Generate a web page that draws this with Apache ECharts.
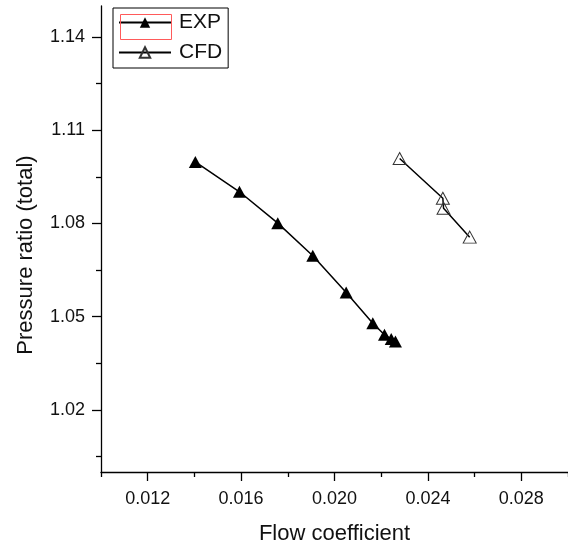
<!DOCTYPE html>
<html>
<head>
<meta charset="utf-8">
<script src="https://cdn.jsdelivr.net/npm/echarts@6/dist/echarts.min.js"></script>
<style>html,body{margin:0;padding:0;background:#fff}#c{width:568px;height:547px}</style>
</head>
<body>
<div id="c"></div>
<script>
// Data
const expFlow = [0.01404, 0.01593, 0.01757, 0.01907, 0.02050, 0.02164, 0.02214, 0.02243, 0.02261];
const expRatio = [1.0998, 1.0902, 1.0801, 1.0696, 1.0578, 1.0479, 1.0442, 1.0428, 1.0420];
const cfdFlow = [0.02279, 0.02464, 0.02467, 0.02579];
const cfdRatio = [1.1009, 1.0881, 1.0849, 1.0756];
const xMajorTicks = [0.012, 0.016, 0.020, 0.024, 0.028];
const xMinorTicks = [0.010, 0.014, 0.018, 0.022, 0.026, 0.030];
const yMajorTicks = [1.02, 1.05, 1.08, 1.11, 1.14];
const yMinorTicks = [1.005, 1.035, 1.065, 1.095, 1.125];
const seriesNames = ['EXP', 'CFD'];
const xTitle = 'Flow coefficient';
const yTitle = 'Pressure ratio (total)';

const pairs = (xs, ys) => xs.map((x, i) => [x, ys[i]]);
const FONT = '"Liberation Sans", Arial, sans-serif';
const chart = echarts.init(document.getElementById('c'), null, {renderer: 'canvas'});
const axisLineStyle = {color: '#000', width: 1.3};
chart.setOption({
  animation: false,
  backgroundColor: '#fff',
  grid: {left: 101, right: 0, top: 6, bottom: 75, outerBoundsMode: 'none', containLabel: false},
  legend: {
    orient: 'vertical', left: 113, top: 8,
    padding: [4, 6, 5, 5], itemGap: 9,
    borderColor: '#000', borderWidth: 1,
    itemWidth: 52, itemHeight: 13,
    textStyle: {fontFamily: FONT, fontSize: 21, color: '#111', padding: [0, 0, 0, 3]},
    data: seriesNames
  },
  graphic: [{
    type: 'rect', left: 118, top: 12, z: 100,
    shape: {width: 51, height: 25},
    style: {fill: 'none', stroke: '#ff5a5a', lineWidth: 1}
  }],
  xAxis: [{
    type: 'value', min: 0.010, max: 0.030,
    name: xTitle, nameLocation: 'middle', nameGap: 51,
    nameTextStyle: {fontFamily: FONT, fontSize: 22, color: '#111'},
    axisLine: {show: true, lineStyle: axisLineStyle},
    axisTick: {show: true, customValues: xMajorTicks, length: 9, lineStyle: axisLineStyle},
    axisLabel: {customValues: xMajorTicks, margin: 18, fontFamily: FONT, fontSize: 18, color: '#111',
      formatter: v => v.toFixed(3)},
    splitLine: {show: false}
  }, {
    type: 'value', min: 0.010, max: 0.030, position: 'bottom',
    axisLine: {show: false},
    axisTick: {show: true, customValues: xMinorTicks, length: 5, lineStyle: axisLineStyle},
    axisLabel: {show: false},
    splitLine: {show: false}
  }],
  yAxis: [{
    type: 'value', min: 1.00, max: 1.15,
    name: yTitle, nameLocation: 'middle', nameGap: 64, nameRotate: 90,
    nameTextStyle: {fontFamily: FONT, fontSize: 22, color: '#111', padding: [0, 32, 0, 0]},
    axisLine: {show: true, lineStyle: axisLineStyle},
    axisTick: {show: true, customValues: yMajorTicks, length: 9, lineStyle: axisLineStyle},
    axisLabel: {customValues: yMajorTicks, margin: 16, fontFamily: FONT, fontSize: 18, color: '#111',
      formatter: v => v.toFixed(2)},
    splitLine: {show: false}
  }, {
    type: 'value', min: 1.00, max: 1.15, position: 'left',
    axisLine: {show: false},
    axisTick: {show: true, customValues: yMinorTicks, length: 5, lineStyle: axisLineStyle},
    axisLabel: {show: false},
    splitLine: {show: false}
  }],
  series: [{
    name: seriesNames[0], type: 'line', xAxisIndex: 0, yAxisIndex: 0,
    data: pairs(expFlow, expRatio),
    symbol: 'triangle', symbolSize: [13, 12],
    lineStyle: {color: '#000', width: 1.5},
    itemStyle: {color: '#000', borderColor: '#000', borderWidth: 0},
    z: 3
  }, {
    name: seriesNames[1], type: 'line', xAxisIndex: 0, yAxisIndex: 0,
    data: pairs(cfdFlow, cfdRatio),
    symbol: 'triangle', symbolSize: [13, 12],
    lineStyle: {color: '#000', width: 1.5},
    itemStyle: {color: 'rgba(255,255,255,0)', borderColor: '#333', borderWidth: 1},
    z: 3
  }]
});
</script>
</body>
</html>
